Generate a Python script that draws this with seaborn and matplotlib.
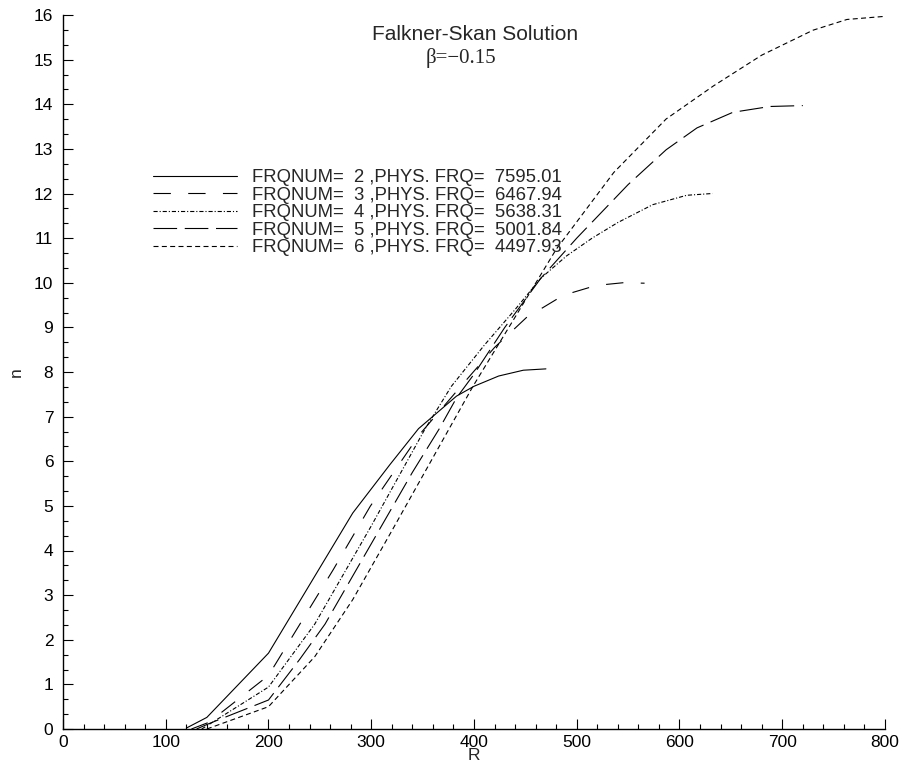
import matplotlib
matplotlib.use("Agg")
import matplotlib.pyplot as plt
import seaborn as sns
import pandas as pd
from matplotlib.ticker import MultipleLocator

# ---- data ----
R2 = [120, 140, 200, 282, 318, 346, 383, 400, 424, 448, 470]
N2 = [0.02, 0.26, 1.70, 4.84, 5.92, 6.73, 7.46, 7.68, 7.91, 8.04, 8.07]

R3 = [125, 142, 200, 263, 299, 347, 388, 420, 451, 487, 519, 545, 566]
N3 = [0.0, 0.15, 1.20, 3.57, 4.99, 6.60, 7.70, 8.55, 9.22, 9.72, 9.94, 10.0, 9.99]

R4 = [135, 142, 200, 245, 300, 352, 378, 410, 440, 465, 490, 515, 540, 574, 607, 632]
N4 = [0.0, 0.10, 0.94, 2.35, 4.55, 6.71, 7.68, 8.60, 9.40, 10.10, 10.60, 11.00, 11.35, 11.75, 11.96, 12.0]

R5 = [130, 142, 200, 230, 255, 300, 340, 366, 383, 400, 430, 465, 500, 550, 587, 617, 652, 688, 720]
N5 = [0.0, 0.12, 0.65, 1.55, 2.35, 4.15, 5.75, 6.72, 7.42, 7.95, 9.00, 10.10, 11.00, 12.20, 12.98, 13.47, 13.82, 13.95, 13.97]

R6 = [140, 200, 245, 282, 320, 360, 399, 440, 480, 536, 587, 633, 680, 730, 763, 800]
N6 = [0.0, 0.50, 1.62, 2.90, 4.44, 6.08, 7.68, 9.23, 10.75, 12.47, 13.67, 14.41, 15.10, 15.66, 15.90, 15.97]

labels = [
    "FRQNUM=  2 ,PHYS. FRQ=  7595.01",
    "FRQNUM=  3 ,PHYS. FRQ=  6467.94",
    "FRQNUM=  4 ,PHYS. FRQ=  5638.31",
    "FRQNUM=  5 ,PHYS. FRQ=  5001.84",
    "FRQNUM=  6 ,PHYS. FRQ=  4497.93",
]
series = [(R2, N2), (R3, N3), (R4, N4), (R5, N5), (R6, N6)]

title_text = "Falkner-Skan Solution"
beta_text = "\u03b2=\u22120.15"

# ---- style ----
sns.set_style("ticks")
plt.rcParams["font.family"] = ["Liberation Sans", "DejaVu Sans"]
plt.rcParams["lines.scale_dashes"] = False

styles = [
    "-",
    (0, (12.5, 12.5)),
    (0, (3.0, 1.4, 0.8, 1.4)),
    (0, (17, 5.5)),
    (0, (3.6, 2.4)),
]

fig = plt.figure(figsize=(9.04, 7.65), dpi=100)
ax = fig.add_axes([63 / 904, 1 - 729 / 765, (885 - 63) / 904, (729 - 15) / 765])

handles = []
for (r, n), ls, lab in zip(series, styles, labels):
    df = pd.DataFrame({"R": r, "n": n})
    sns.lineplot(data=df, x="R", y="n", ax=ax, color="black", linewidth=0.8,
                 linestyle=ls, sort=False, estimator=None, label=lab, legend=False)
    handles.append(ax.lines[-1])

ax.set_xlim(0, 800)
ax.set_ylim(0, 16)
ax.xaxis.set_major_locator(MultipleLocator(100))
ax.xaxis.set_minor_locator(MultipleLocator(20))
ax.yaxis.set_major_locator(MultipleLocator(1))
ax.yaxis.set_minor_locator(MultipleLocator(1 / 3))

for s in ["top", "right"]:
    ax.spines[s].set_visible(False)
for s in ["left", "bottom"]:
    ax.spines[s].set_color("black")
    ax.spines[s].set_linewidth(1.0)

ax.tick_params(which="both", bottom=True, left=True, top=False, right=False)
ax.tick_params(which="major", direction="in", length=7.2, width=0.8, colors="black",
               labelsize=12.5)
ax.tick_params(which="minor", direction="in", length=3.6, width=0.8, colors="black")
ax.tick_params(axis="y", which="major", pad=7)
ax.tick_params(axis="x", which="major", pad=4)

ax.set_xlabel("R", fontsize=12.5)
ax.set_ylabel("n", fontsize=12.5)
ax.xaxis.set_label_coords(0.5, -0.027)
ax.yaxis.set_label_coords(-0.048, 0.5)

leg = ax.legend(handles=handles, labels=labels, loc="upper left",
                bbox_to_anchor=(153 / 904, 1 - 169 / 765), bbox_transform=fig.transFigure,
                frameon=False, fontsize=13.3, handlelength=4.55, handletextpad=0.8,
                labelspacing=0.03, borderpad=0, borderaxespad=0)

fig.text(475 / 904, 1 - 34 / 765, title_text, ha="center", va="center", fontsize=15)
fig.text(461 / 904, 1 - 58 / 765, beta_text, ha="center", va="center", fontsize=15,
         family=["Liberation Serif", "DejaVu Serif"])

fig.savefig("out.png", dpi=100, facecolor="white")
